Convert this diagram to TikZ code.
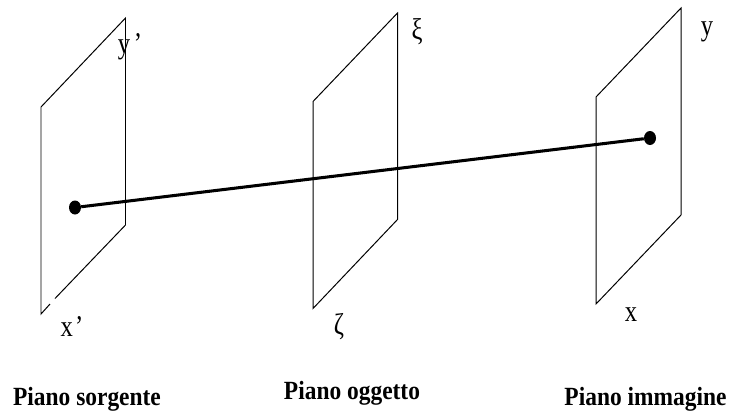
\documentclass[tikz,border=0pt]{standalone}
\usepackage{fontspec}
\setmainfont{Liberation Serif}
\usetikzlibrary{shapes.geometric}
\newcommand{\tallaxis}[1]{\scalebox{1}[1.22]{#1}}
\newcommand{\talltitle}[1]{\scalebox{1}[1.12]{#1}}

\begin{document}
\begin{tikzpicture}[x=0.03cm,y=-0.03cm,
  plane/.style={line width=0.85pt,line join=miter},
  spot/.style={draw=none,fill=black,ellipse,minimum width=0.36cm,minimum height=0.42cm,inner sep=0pt},
  ray/.style={line width=2.6pt},
  axis/.style={font=\fontsize{21}{24}\selectfont,inner sep=0pt},
  title/.style={font=\fontsize{20}{24}\selectfont\bfseries,inner sep=0pt}]
\useasboundingbox (0,0) rectangle (729,412);
% planes
\draw[plane] (55,298.5)--(125.5,225)--(125.5,18)--(41,107)--(41,314)--(50,304);
\draw[plane] (313,101.5)--(397.5,13)--(397.5,219.5)--(313,308.5)--cycle;
\draw[plane] (596,97)--(681,8)--(681,215)--(596,304)--cycle;
% ray
\node[spot] (src) at (75,207.5) {};
\node[spot] (img) at (650,138) {};
\draw[ray] (src)--(img);
% axes
\node[axis] (yp) at (130,47) {\tallaxis{y\hspace{3pt}’}};
\node[axis] (xp) at (72,327) {\tallaxis{x\hspace{2pt}’}};
\node[axis] (xi) at (417,32) {\tallaxis{ξ}};
\node[axis] (zeta) at (339,327) {\tallaxis{ζ}};
\node[axis] (yi) at (707,32) {\tallaxis{y}};
\node[axis] (xi2) at (631,315) {\tallaxis{x}};
% titles
\node[title] (t1) at (87,399.5) {\talltitle{Piano sorgente}};
\node[title] (t2) at (352,393.5) {\talltitle{Piano oggetto}};
\node[title] (t3) at (645.5,399) {\talltitle{Piano immagine}};
\end{tikzpicture}
\end{document}
